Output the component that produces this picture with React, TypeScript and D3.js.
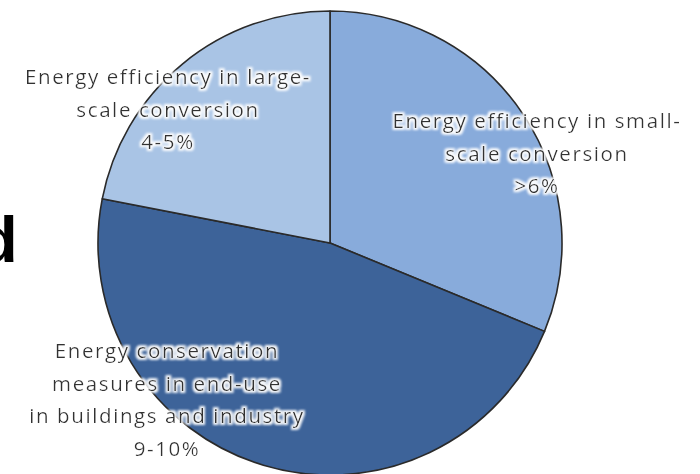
import React from "react";
import * as d3 from "d3";

const categories = [
  "Energy efficiency in small-scale conversion",
  "Energy conservation measures in end-use in buildings and industry",
  "Energy efficiency in large-scale conversion",
];
const values = [6.4, 9.6, 4.5];
const labelLines = [
  ["Energy efficiency in small-", "scale conversion", ">6%"],
  ["Energy conservation", "measures in end-use", "in buildings and industry", "9-10%"],
  ["Energy efficiency in large-", "scale conversion", "4-5%"],
];
const colors = ["#88abdb", "#3d6399", "#a9c4e5"];

const W = 700;
const H = 474;
const cx = 330;
const cy = 243;
const R = 232;
const labelPos = [
  { x: 537, y: 128 },
  { x: 167, y: 358 },
  { x: 168, y: 84 },
];
const lineH = 32.5;

export default function App() {
  const pie = d3
    .pie<number>()
    .sort(null)
    .value((d) => d)
    .startAngle(0)
    .endAngle(2 * Math.PI);
  const arcs = pie(values);
  const arc = d3.arc<d3.PieArcDatum<number>>().innerRadius(0).outerRadius(R);

  return (
    <svg
      width={W}
      height={H}
      style={{ position: "absolute", left: 0, top: 0, background: "#fff" }}
    >
      <defs>
        <filter id="glow" x="-10%" y="-30%" width="120%" height="160%">
          <feMorphology in="SourceAlpha" operator="dilate" radius="1.6" result="d" />
          <feGaussianBlur in="d" stdDeviation="1" result="b" />
          <feFlood floodColor="#ffffff" floodOpacity="0.95" />
          <feComposite in2="b" operator="in" result="halo" />
          <feMerge>
            <feMergeNode in="halo" />
            <feMergeNode in="SourceGraphic" />
          </feMerge>
        </filter>
      </defs>
      <text
        x={-22}
        y={262}
        fontFamily="Liberation Sans, Arial, sans-serif"
        fontWeight="bold"
        fontSize={65}
        fill="#000"
      >
        d
      </text>
      <g transform={`translate(${cx},${cy})`}>
        {arcs.map((a, i) => (
          <path
            key={categories[i]}
            d={arc(a) || ""}
            fill={colors[i]}
            stroke="#2a2a2a"
            strokeWidth={1.6}
            strokeLinejoin="round"
          />
        ))}
      </g>
      {labelLines.map((lines, i) => (
        <text
          key={"l" + i}
          x={labelPos[i].x}
          y={labelPos[i].y}
          textAnchor="middle"
          fontFamily="'Open Sans', Lato, sans-serif"
          fontSize={20.5}
          letterSpacing={1.6}
          fill="#333333"
          filter="url(#glow)"
        >
          {lines.map((t, j) => (
            <tspan key={j} x={labelPos[i].x} y={labelPos[i].y + j * lineH}>
              {t}
            </tspan>
          ))}
        </text>
      ))}
    </svg>
  );
}
